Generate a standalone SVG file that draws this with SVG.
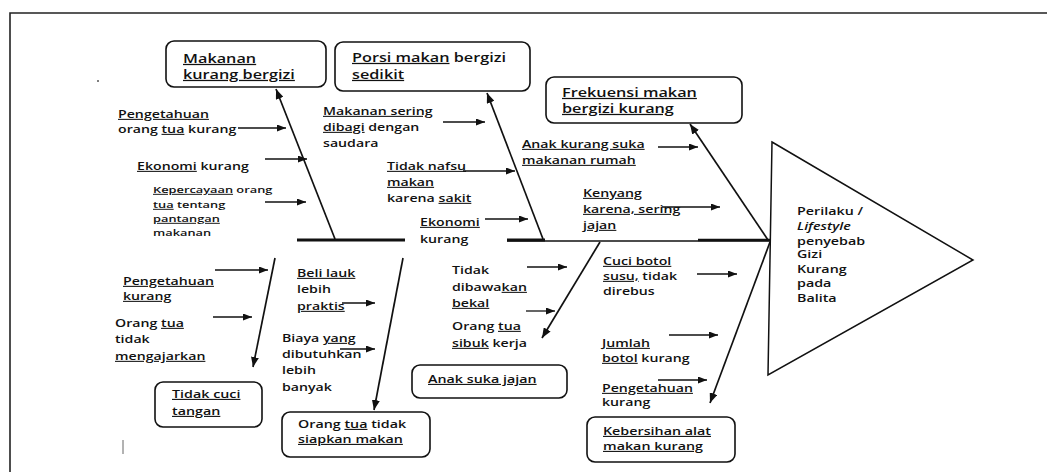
<svg xmlns="http://www.w3.org/2000/svg" width="1047" height="472" viewBox="0 0 1047 472">
<style>
.t{font-family:"Open Sans","Liberation Sans",sans-serif;font-size:10.5px;font-weight:600;fill:#111}
.b{font-size:12.5px}
.s{font-size:9.5px}
.m{font-size:11px}
.u{text-decoration:underline}
.box{fill:#fff;stroke:#111;stroke-width:1.6}
.ln{stroke:#111;stroke-width:1.3;fill:none}
.br{stroke:#111;stroke-width:1.7;fill:none}
.sp{stroke:#111;fill:none}
</style>
<defs>
<marker id="ah" markerUnits="userSpaceOnUse" markerWidth="9" markerHeight="7" refX="9" refY="3.5" orient="auto">
<path d="M0,0 L9,3.5 L0,7 z" fill="#111"/>
</marker>
<marker id="ahb" markerUnits="userSpaceOnUse" markerWidth="10" markerHeight="8" refX="10" refY="4" orient="auto">
<path d="M0,0 L10,4 L0,8 z" fill="#111"/>
</marker>
</defs>
<rect width="1047" height="472" fill="#fff"/>
<path d="M10,472 L10,13 L1047,13" fill="none" stroke="#222" stroke-width="1.6"/>
<circle cx="98" cy="81" r="1" fill="#555"/>
<line x1="123" y1="440" x2="123" y2="454" stroke="#666" stroke-width="1"/>

<g id="connectors">
<line class="sp" x1="297" y1="240" x2="405" y2="240" stroke-width="3"/>
<line class="sp" x1="507" y1="240" x2="545" y2="240" stroke-width="3"/>
<line class="sp" x1="507" y1="241" x2="770" y2="241" stroke-width="1.5"/>
<line class="sp" x1="698" y1="240" x2="770" y2="240" stroke-width="2.6"/>
<line class="br" x1="335" y1="239" x2="276" y2="89" marker-end="url(#ahb)"/>
<line class="br" x1="543" y1="239" x2="487" y2="93" marker-end="url(#ahb)"/>
<line class="br" x1="768" y1="240" x2="690" y2="124" marker-end="url(#ahb)"/>
<line class="br" x1="275" y1="258" x2="253" y2="367" marker-end="url(#ahb)"/>
<line class="br" x1="403" y1="258" x2="374" y2="410" marker-end="url(#ahb)"/>
<line class="br" x1="600" y1="242" x2="542" y2="338" marker-end="url(#ahb)"/>
<line class="br" x1="770" y1="242" x2="710" y2="403" marker-end="url(#ahb)"/>
<line class="ln" x1="238" y1="128" x2="286" y2="128" marker-end="url(#ah)"/>
<line class="ln" x1="265" y1="159" x2="307" y2="159" marker-end="url(#ah)"/>
<line class="ln" x1="265" y1="202" x2="306" y2="202" marker-end="url(#ah)"/>
<line class="ln" x1="443" y1="122" x2="485" y2="122" marker-end="url(#ah)"/>
<line class="ln" x1="463" y1="171" x2="515" y2="171" marker-end="url(#ah)"/>
<line class="ln" x1="485" y1="219" x2="528" y2="219" marker-end="url(#ah)"/>
<line class="ln" x1="658" y1="147" x2="698" y2="147" marker-end="url(#ah)"/>
<line class="ln" x1="662" y1="207" x2="720" y2="207" marker-end="url(#ah)"/>
<line class="ln" x1="215" y1="270" x2="268" y2="270" marker-end="url(#ah)"/>
<line class="ln" x1="213" y1="317" x2="252" y2="317" marker-end="url(#ah)"/>
<line class="ln" x1="342" y1="303" x2="375" y2="303" marker-end="url(#ah)"/>
<line class="ln" x1="340" y1="349" x2="375" y2="349" marker-end="url(#ah)"/>
<line class="ln" x1="527" y1="267" x2="567" y2="267" marker-end="url(#ah)"/>
<line class="ln" x1="526" y1="311" x2="555" y2="311" marker-end="url(#ah)"/>
<line class="ln" x1="697" y1="274" x2="737" y2="274" marker-end="url(#ah)"/>
<line class="ln" x1="669" y1="335" x2="718" y2="335" marker-end="url(#ah)"/>
<line class="ln" x1="658" y1="380" x2="707" y2="380" marker-end="url(#ah)"/>
</g>

<g id="head">
<polygon points="772,142 973,260 768,375" fill="#fff" stroke="#111" stroke-width="1.5"/>
<text class="t m" transform="translate(797 215) scale(1.3 1)"><tspan x="0" y="0">Perilaku /</tspan><tspan x="0" y="15" font-style="italic">Lifestyle</tspan><tspan x="0" y="30">penyebab</tspan><tspan x="0" y="43.5">Gizi</tspan><tspan x="0" y="58">Kurang</tspan><tspan x="0" y="72.5">pada</tspan><tspan x="0" y="87">Balita</tspan></text>
</g>

<g id="box-makanan">
<rect class="box" x="166" y="41" width="160" height="46" rx="8"/>
<text class="t b" transform="translate(183 63) scale(1.3 1)"><tspan x="0" y="0" class="u">Makanan</tspan><tspan x="0" y="16" class="u">kurang bergizi</tspan></text>
</g>
<g id="box-porsi">
<rect class="box" x="335" y="42" width="195" height="49" rx="8"/>
<text class="t b" transform="translate(352 62) scale(1.3 1)"><tspan x="0" y="0"><tspan class="u">Porsi makan</tspan> bergizi</tspan><tspan x="0" y="17" class="u">sedikit</tspan></text>
</g>
<g id="box-frekuensi">
<rect class="box" x="546" y="77" width="196" height="46" rx="8"/>
<text class="t b" transform="translate(562 97) scale(1.3 1)"><tspan x="0" y="0" class="u">Frekuensi makan</tspan><tspan x="0" y="16" class="u">bergizi kurang</tspan></text>
</g>
<g id="box-cuci">
<rect class="box" x="155" y="382" width="107" height="45" rx="8"/>
<text class="t m" transform="translate(172 398) scale(1.3 1)"><tspan x="0" y="0" class="u">Tidak cuci</tspan><tspan x="0" y="17" class="u">tangan</tspan></text>
</g>
<g id="box-siapkan">
<rect class="box" x="282" y="412" width="148" height="45" rx="8"/>
<text class="t m" transform="translate(298 428) scale(1.3 1)"><tspan x="0" y="0">Orang <tspan class="u">tua</tspan> tidak</tspan><tspan x="0" y="15" class="u">siapkan makan</tspan></text>
</g>
<g id="box-jajan">
<rect class="box" x="412" y="365" width="155" height="33" rx="8"/>
<text class="t m" transform="translate(428 383) scale(1.3 1)"><tspan class="u">Anak suka jajan</tspan></text>
</g>
<g id="box-kebersihan">
<rect class="box" x="587" y="417" width="148" height="45" rx="8"/>
<text class="t m" transform="translate(603 435) scale(1.3 1)"><tspan x="0" y="0" class="u">Kebersihan alat</tspan><tspan x="0" y="15" class="u">makan kurang</tspan></text>
</g>

<g id="causes">
<text class="t" transform="translate(118 118) scale(1.35 1)"><tspan x="0" y="0" class="u">Pengetahuan</tspan><tspan x="0" y="15">orang <tspan class="u">tua</tspan> kurang</tspan></text>
<text class="t" transform="translate(137 170) scale(1.35 1)"><tspan class="u">Ekonomi</tspan> kurang</text>
<text class="t s" transform="translate(153 193) scale(1.35 1)"><tspan x="0" y="0"><tspan class="u">Kepercayaan</tspan> orang</tspan><tspan x="0" y="15"><tspan class="u">tua</tspan> tentang</tspan><tspan x="0" y="29" class="u">pantangan</tspan><tspan x="0" y="43">makanan</tspan></text>
<text class="t" transform="translate(323 115) scale(1.35 1)"><tspan x="0" y="0" class="u">Makanan sering</tspan><tspan x="0" y="16"><tspan class="u">dibagi</tspan> dengan</tspan><tspan x="0" y="32">saudara</tspan></text>
<text class="t" transform="translate(387 170) scale(1.35 1)"><tspan x="0" y="0" class="u">Tidak nafsu</tspan><tspan x="0" y="16" class="u">makan</tspan><tspan x="0" y="32">karena <tspan class="u">sakit</tspan></tspan></text>
<text class="t" transform="translate(420 226) scale(1.35 1)"><tspan x="0" y="0" class="u">Ekonomi</tspan><tspan x="0" y="17">kurang</tspan></text>
<text class="t" transform="translate(522 148) scale(1.35 1)"><tspan x="0" y="0" class="u">Anak kurang suka</tspan><tspan x="0" y="16" class="u">makanan rumah</tspan></text>
<text class="t" transform="translate(583 197) scale(1.35 1)"><tspan x="0" y="0" class="u">Kenyang</tspan><tspan x="0" y="16" class="u">karena, sering</tspan><tspan x="0" y="32" class="u">jajan</tspan></text>
<text class="t" transform="translate(123 285) scale(1.35 1)"><tspan x="0" y="0" class="u">Pengetahuan</tspan><tspan x="0" y="15" class="u">kurang</tspan></text>
<text class="t" transform="translate(115 327) scale(1.35 1)"><tspan x="0" y="0">Orang <tspan class="u">tua</tspan></tspan><tspan x="0" y="16">tidak</tspan><tspan x="0" y="33" class="u">mengajarkan</tspan></text>
<text class="t" transform="translate(297 277) scale(1.35 1)"><tspan x="0" y="0" class="u">Beli lauk</tspan><tspan x="0" y="16">lebih</tspan><tspan x="0" y="33" class="u">praktis</tspan></text>
<text class="t" transform="translate(282 342) scale(1.35 1)"><tspan x="0" y="0">Biaya <tspan class="u">yang</tspan></tspan><tspan x="0" y="16">dibutuhkan</tspan><tspan x="0" y="32">lebih</tspan><tspan x="0" y="49">banyak</tspan></text>
<text class="t" transform="translate(452 274) scale(1.35 1)"><tspan x="0" y="0">Tidak</tspan><tspan x="0" y="17">dibawa<tspan class="u">kan</tspan></tspan><tspan x="0" y="33" class="u">bekal</tspan></text>
<text class="t" transform="translate(452 330) scale(1.35 1)"><tspan x="0" y="0">Orang <tspan class="u">tua</tspan></tspan><tspan x="0" y="17"><tspan class="u">sibuk</tspan> kerja</tspan></text>
<text class="t" transform="translate(603 265) scale(1.35 1)"><tspan x="0" y="0" class="u">Cuci botol</tspan><tspan x="0" y="15"><tspan class="u">susu,</tspan> tidak</tspan><tspan x="0" y="30">direbus</tspan></text>
<text class="t" transform="translate(602 347) scale(1.35 1)"><tspan x="0" y="0" class="u">Jumlah</tspan><tspan x="0" y="15"><tspan class="u">botol</tspan> kurang</tspan></text>
<text class="t" transform="translate(602 392) scale(1.35 1)"><tspan x="0" y="0" class="u">Pengetahuan</tspan><tspan x="0" y="14">kurang</tspan></text>
</g>
</svg>
